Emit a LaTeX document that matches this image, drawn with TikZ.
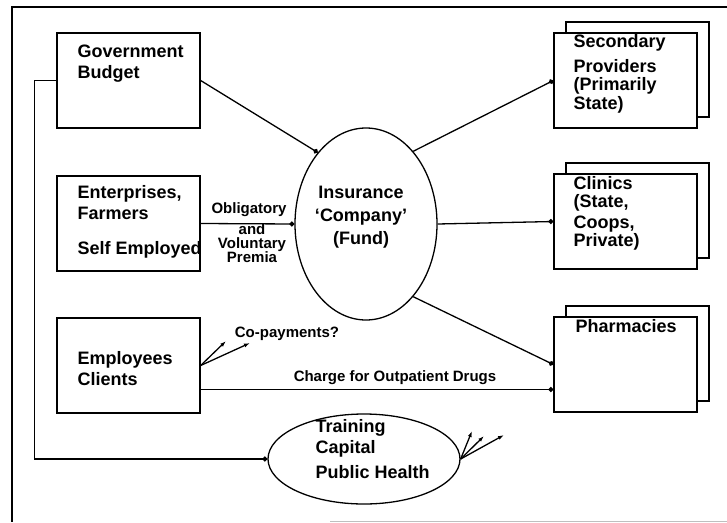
\documentclass[tikz,border=0pt]{standalone}
\usepackage{fontspec}
\setmainfont{Liberation Sans}
\usetikzlibrary{positioning,arrows.meta,shapes.geometric,shadows}

\begin{document}
\begin{tikzpicture}[x=1pt,y=-1pt,line width=1.3pt,
  font=\bfseries\fontsize{18}{21}\selectfont,
  unit/.style={draw,fill=white,minimum width=143pt,minimum height=95pt},
  provider/.style={unit,copy shadow={shadow xshift=12pt,shadow yshift=11pt}},
  fund/.style={draw,ellipse,minimum width=142pt,minimum height=192pt},
  boxtext/.style={anchor=base west,align=left,inner sep=0pt},
  note/.style={anchor=base,align=center,inner sep=0pt,font=\bfseries\fontsize{15}{14}\selectfont},
  pay/.style={-{Circle[length=5pt]}},
  flow/.style={-{Latex[length=6pt,width=4pt]}}]
\useasboundingbox (0,0) rectangle (727,522);
% --- frame ---
\draw[line width=2pt] (727,7) -| (12,522);
\draw[gray!50,line width=1pt] (330,521) -- (727,521);
% --- payers (text nodes sit on the baseline of their last line) ---
\node[unit] (gov) at (128.5,80.5) {};
\node[unit] (firms) at (128.5,223.5) {};
\node[unit] (staff) at (128.5,365.5) {};
\node[boxtext] (govt) at (77,78) {Government\\Budget};
\node[boxtext] (firmst) at (77,254) {Enterprises,\\Farmers\\[14pt]Self Employed};
\node[boxtext] (stafft) at (77,385) {Employees\\Clients};
% --- fund ---
\node[fund] (fund) at (366,224) {};
\node[anchor=base,align=center,inner sep=0pt] (fundt) at (361,244) {Insurance\\[2pt]`Company'\\[2pt](Fund)};
\node[draw,ellipse,minimum width=192pt,minimum height=90pt] (train) at (364,459) {};
\node[boxtext] (traint) at (315,478) {Training\\Capital\\[4pt]Public Health};
% --- providers ---
\node[provider] (second) at (625.5,80.5) {};
\node[provider] (clinic) at (625.5,221.5) {};
\node[provider] (pharm) at (625.5,364.5) {};
\node[boxtext] (secondt) at (573,109) {Secondary\\[4pt]Providers\\[-3pt](Primarily\\[-2pt]State)};
\node[boxtext] (clinict) at (573,246) {Clinics\\[-3pt](State,\\Coops,\\[-3pt]Private)};
\node[boxtext] (pharmt) at (575,332) {Pharmacies};
% --- money flows ---
\draw[pay] (gov.east) -- (fund.124.6);
\draw[pay] (firms.east) -- (fund.west);
\draw[pay] (fund.57) -- (second.west);
\draw[pay] (fund.east) -- (clinic.west);
\draw[pay] (fund.-57) -- (pharm.west);
\draw[pay] ([yshift=-24pt]staff.east) coordinate (drug) -- (drug -| pharm.west);
\draw[pay] (gov.west) -- ++(-22,0) |- (train.west);
\node[note] (oblig) at (249,213) {Obligatory};
\node[note] (volun) at (252,262) {and\\Voluntary\\Premia};
\node[note] (drugt) at (395,381) {Charge for Outpatient Drugs};
\node[note] (copay) at (287,337) {Co-payments?};
% --- open ends ---
\coordinate (cp1) at (226,341);
\coordinate (cp2) at (250,343);
\draw[flow] (staff.east) -- (cp1);
\draw[flow] (staff.east) -- (cp2);
\foreach \p [count=\i] in {(472,431),(484,436),(504,435)}
  \draw[flow] (train.east) -- \p;
\end{tikzpicture}
\end{document}
